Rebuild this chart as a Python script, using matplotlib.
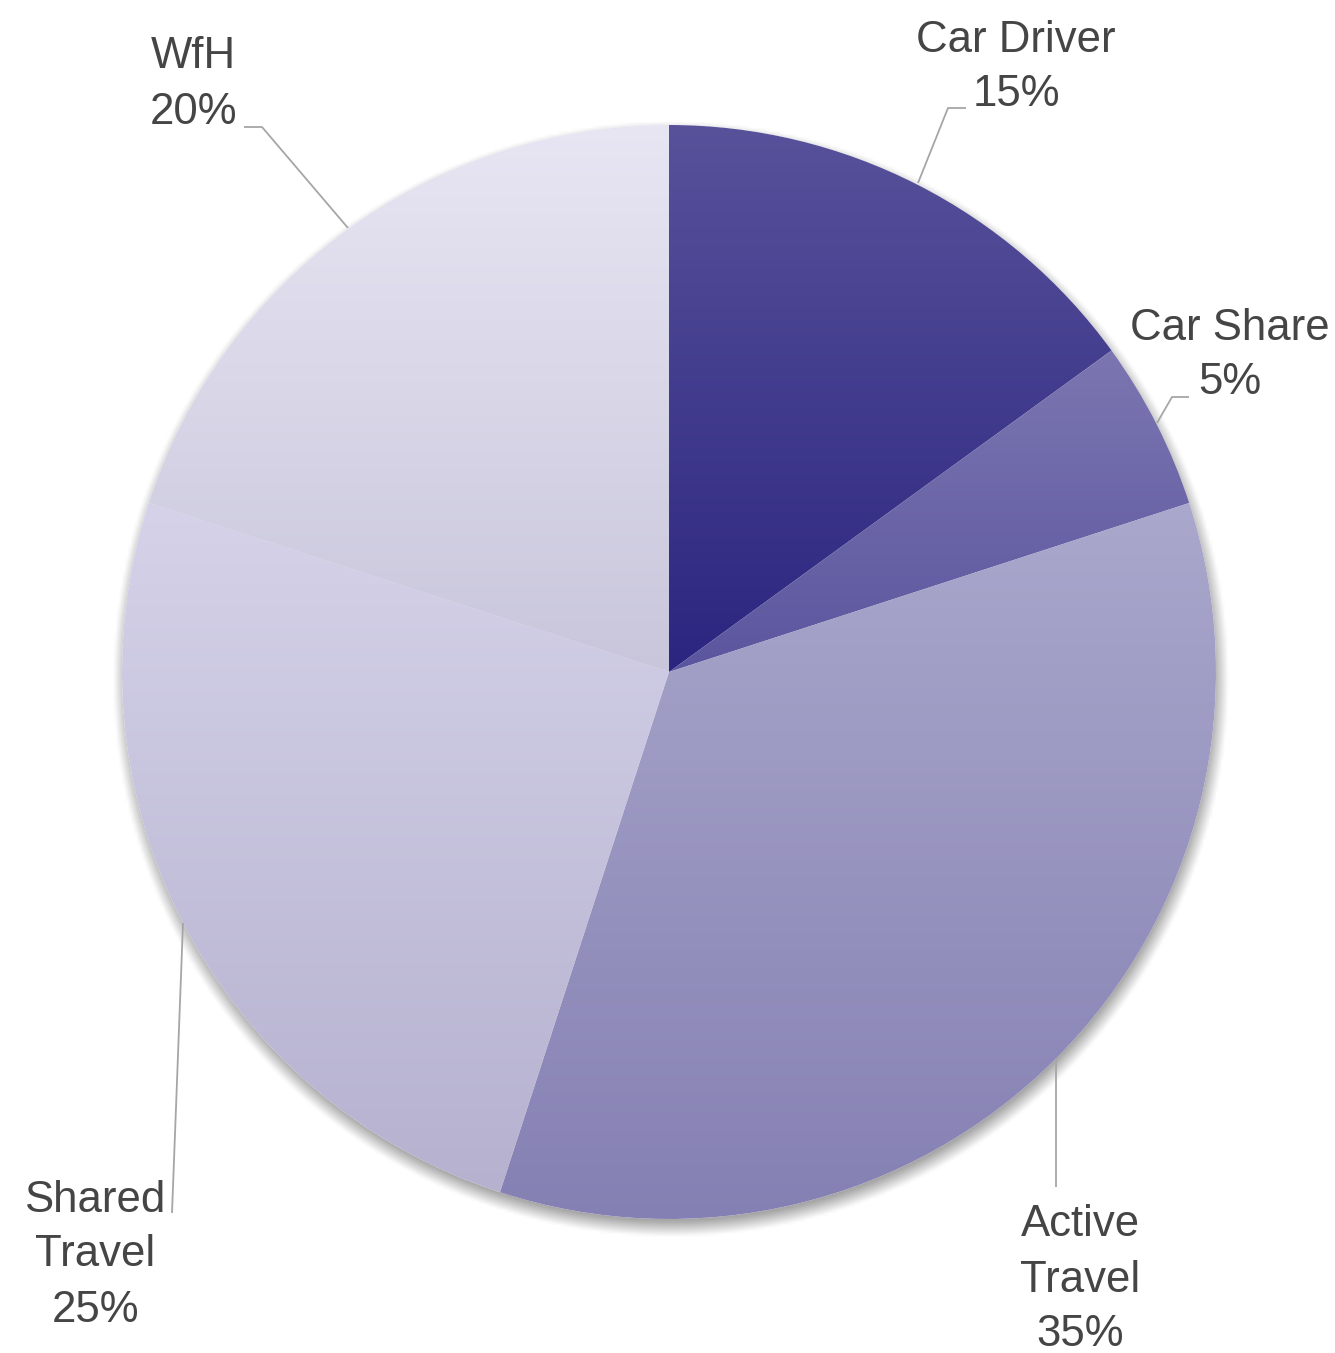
import numpy as np
import matplotlib
matplotlib.use('Agg')
import matplotlib.pyplot as plt
from matplotlib.colors import to_rgb

W, H = 1335, 1353

labels = ['Car Driver', 'Car Share', 'Active Travel', 'Shared Travel', 'WfH']
shares = [15, 5, 35, 25, 20]
# (top colour, bottom colour) for each slice's vertical gradient
tops = ['#58529b', '#7c77b1', '#aaa8cc', '#d5d2e9', '#e8e6f3']
bots = ['#2c2580', '#5b559f', '#8580b3', '#b5b1cf', '#c9c6dc']

TXT = '#404040'
LEAD = '#a6a6a6'
CX, CY, R = 669, 672, 547


def py(y):
    return H - y


fig = plt.figure(figsize=(W / 100, H / 100), dpi=100)
ax = fig.add_axes([0, 0, 1, 1])

# soft drop shadow under the pie
n = 400
xs = np.linspace(CX - R - 40, CX + R + 40, n)
ys = np.linspace(CY - R - 40, CY + R + 40, n)
gx, gy = np.meshgrid(xs, ys)
d = np.hypot(gx - (CX + 2), gy - (CY + 7)) - R
a = np.clip(1 - (d + 4) / 16, 0, 1) * 0.5
shadow = np.zeros((n, n, 4))
shadow[..., :3] = 0.3
shadow[..., 3] = a
ax.imshow(shadow, extent=(xs[0], xs[-1], py(ys[-1]), py(ys[0])),
          origin='upper', aspect='auto', zorder=0, interpolation='bilinear')

wedges, _ = ax.pie(shares, startangle=90, counterclock=False,
                   center=(CX, py(CY)), radius=R,
                   wedgeprops=dict(linewidth=0, facecolor='white'))

for w, t, b in zip(wedges, tops, bots):
    ct, cb = np.array(to_rgb(t)), np.array(to_rgb(b))
    ext = w.get_path().get_extents()
    # each slice gets its own top-to-bottom gradient
    g = np.linspace(0, 1, 256)[:, None, None]
    img = cb + (ct - cb) * g
    im = ax.imshow(img, extent=(ext.x0 - 2, ext.x1 + 2, ext.y0 - 2, ext.y1 + 2),
                   origin='lower', aspect='auto', zorder=2)
    im.set_clip_path(w)

# leader lines (pixel coords of the reference)
leaders = [
    [(918, 183), (948, 108), (966, 108)],
    [(1157, 423), (1172, 397), (1189, 397)],
    [(348, 228), (262, 127), (244, 127)],
    [(183, 923), (172, 1213)],
    [(1056, 1058), (1056, 1187)],
]
for pts in leaders:
    xx = [p[0] for p in pts]
    yy = [py(p[1]) for p in pts]
    ax.plot(xx, yy, color=LEAD, lw=1.3, zorder=3, solid_capstyle='butt')

# label text, one line at a time
label_pos = [
    (1016, [40, 95]),
    (1230, [328, 382]),
    (1080, [1225, 1280, 1335]),
    (95, [1200, 1255, 1310]),
    (193, [57, 112]),
]
for lab, s, (x, lines_y) in zip(labels, shares, label_pos):
    words = lab.split(' ') if len(lines_y) == 3 else [lab]
    parts = words + [f'{s}%']
    for t, y in zip(parts, lines_y):
        ax.text(x, py(y), t, ha='center', va='center', fontsize=31.5,
                color='#454545', family='Liberation Sans', zorder=4)

ax.set_xlim(0, W)
ax.set_ylim(0, H)
ax.set_aspect('auto')
ax.axis('off')

fig.savefig('out.png', dpi=100, facecolor='white')
